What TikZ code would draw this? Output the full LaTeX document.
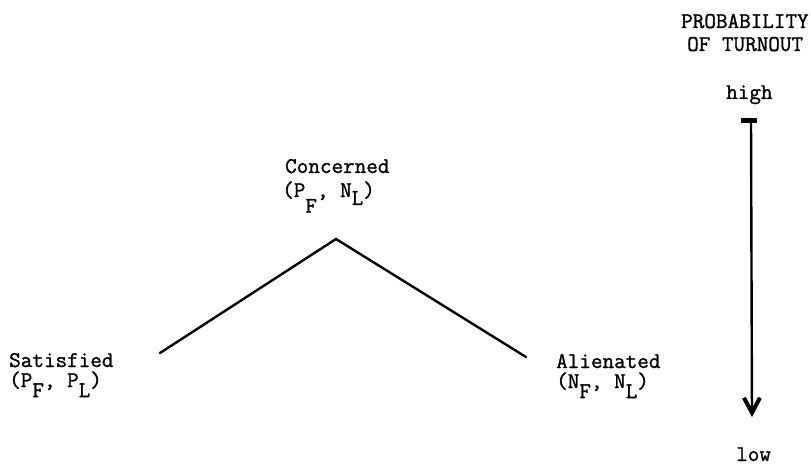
\documentclass[tikz,border=0pt]{standalone}
\usepackage{fontspec}
\setmonofont[FakeBold=1.2]{Latin Modern Mono}
\usetikzlibrary{arrows.meta}
\newcommand{\lowsub}[2][0.45em]{\raisebox{-#1}{#2}}
\begin{document}
\begin{tikzpicture}[x=1pt,y=-1pt,
  lbl/.style={inner sep=0pt, anchor=base west, font=\fontsize{22.5}{27}\selectfont\ttfamily},
  edge/.style={line width=2.4pt, line cap=round, line join=miter},
  scale arrow/.style={line width=2.4pt, -{Straight Barb[length=15pt,width=16pt,line width=4pt]}},
]
\useasboundingbox (0,0) rectangle (811,465);
% scale labels
\node[lbl] (prob) at (681,28) {PROBABILITY};
\node[lbl] (turn) at (687,51) {OF TURNOUT};
\node[lbl] (high) at (726,99) {high};
\node[lbl] (low) at (736,461) {low};
% types
\node[lbl] (conc) at (285,173) {Concerned};
\node[lbl] (concs) at (282,197) {(P\lowsub[0.7em]{F}, N\lowsub[0.35em]{L})};
\node[lbl] (sat) at (9,367) {Satisfied};
\node[lbl] (sats) at (9,387) {(P\lowsub{F}, P\lowsub{L})};
\node[lbl] (ali) at (556,368) {Alienated};
\node[lbl] (alis) at (556,388) {(N\lowsub{F}, N\lowsub{L})};
% tent
\coordinate (lend) at (160,353);
\coordinate (peak) at (336,239);
\coordinate (rend) at (526,357);
\draw[edge] (lend) -- (peak) -- (rend);
% turnout arrow
\coordinate (atop) at (751,121);
\coordinate (abot) at (752,417);
\draw[line width=5pt] ([xshift=-10pt]atop) -- ([xshift=6pt]atop);
\draw[scale arrow] (atop) -- (abot);
\end{tikzpicture}
\end{document}
